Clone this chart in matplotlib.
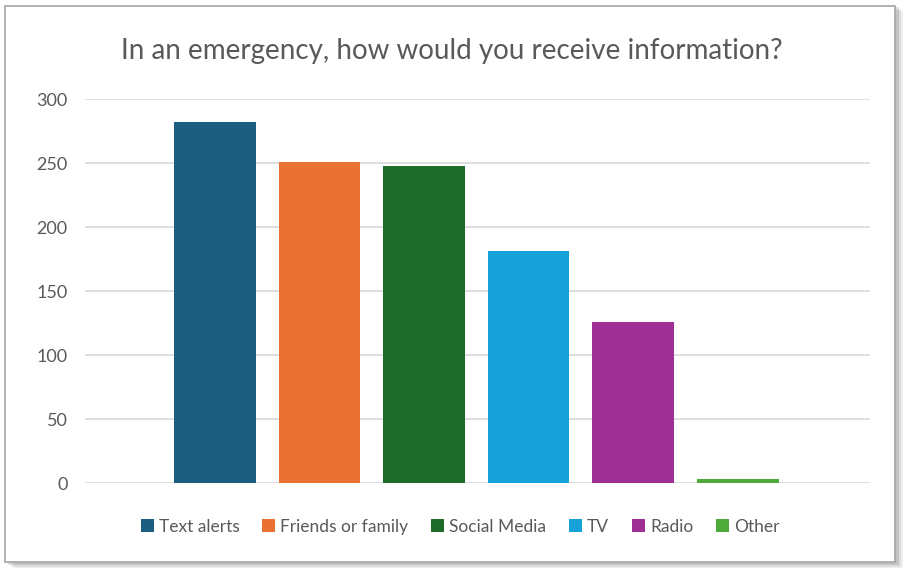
import matplotlib.pyplot as plt
from matplotlib.patches import Rectangle

plt.rcParams['font.family'] = ['Lato', 'DejaVu Sans']

# data
labels = ['Text alerts', 'Friends or family', 'Social Media', 'TV', 'Radio', 'Other']
values = [282, 251, 248, 181, 126, 3]
colors = ['#1b5e80', '#e97132', '#1f6b2a', '#16a1d8', '#a02f93', '#4eab3a']
yticks = [0, 50, 100, 150, 200, 250, 300]

fig = plt.figure(figsize=(9.04, 5.69), dpi=100)

# frame with soft shadow around the chart
for i, a in enumerate([0.06, 0.08, 0.12]):
    off = 0.003 * (3 - i)
    fig.patches.append(Rectangle((0.006 + off, 0.01 - off), 0.985, 0.98,
                                 transform=fig.transFigure, facecolor='#000000',
                                 alpha=a, edgecolor='none', zorder=0))
fig.patches.append(Rectangle((0.006, 0.012), 0.984, 0.978, transform=fig.transFigure,
                             facecolor='white', edgecolor='#a6a6a6', linewidth=1.2, zorder=1))

ax = fig.add_axes([0.094, 0.151, 0.868, 0.675])
ax.set_zorder(2)
ax.set_facecolor('none')

x = list(range(len(values)))
bars = ax.bar(x, values, width=0.78, color=colors, label=labels, zorder=3)

ax.set_xlim(-1.24, 6.26)
ax.set_ylim(0, 300)
ax.set_yticks(yticks)
ax.set_xticks([])
ax.yaxis.grid(True, color='#d9d9d9', linewidth=1.2, zorder=0)
ax.set_axisbelow(True)
for s in ax.spines.values():
    s.set_visible(False)
ax.tick_params(axis='y', length=0, pad=12.5, labelsize=13, labelcolor='#595959')

t = fig.text(0.5, 0.91, 'In an emergency, how would you receive information?',
             ha='center', va='center', fontsize=20, color='#595959')
t.set_zorder(3)

leg = fig.legend(handles=bars, labels=labels, loc='center', bbox_to_anchor=(0.509, 0.074),
                 ncol=6, frameon=False, fontsize=12.5, handlelength=0.75, handleheight=0.75,
                 handletextpad=0.3, columnspacing=1.3)
leg.set_zorder(3)
for tx in leg.get_texts():
    tx.set_color('#595959')

fig.savefig('out.png', dpi=100)
